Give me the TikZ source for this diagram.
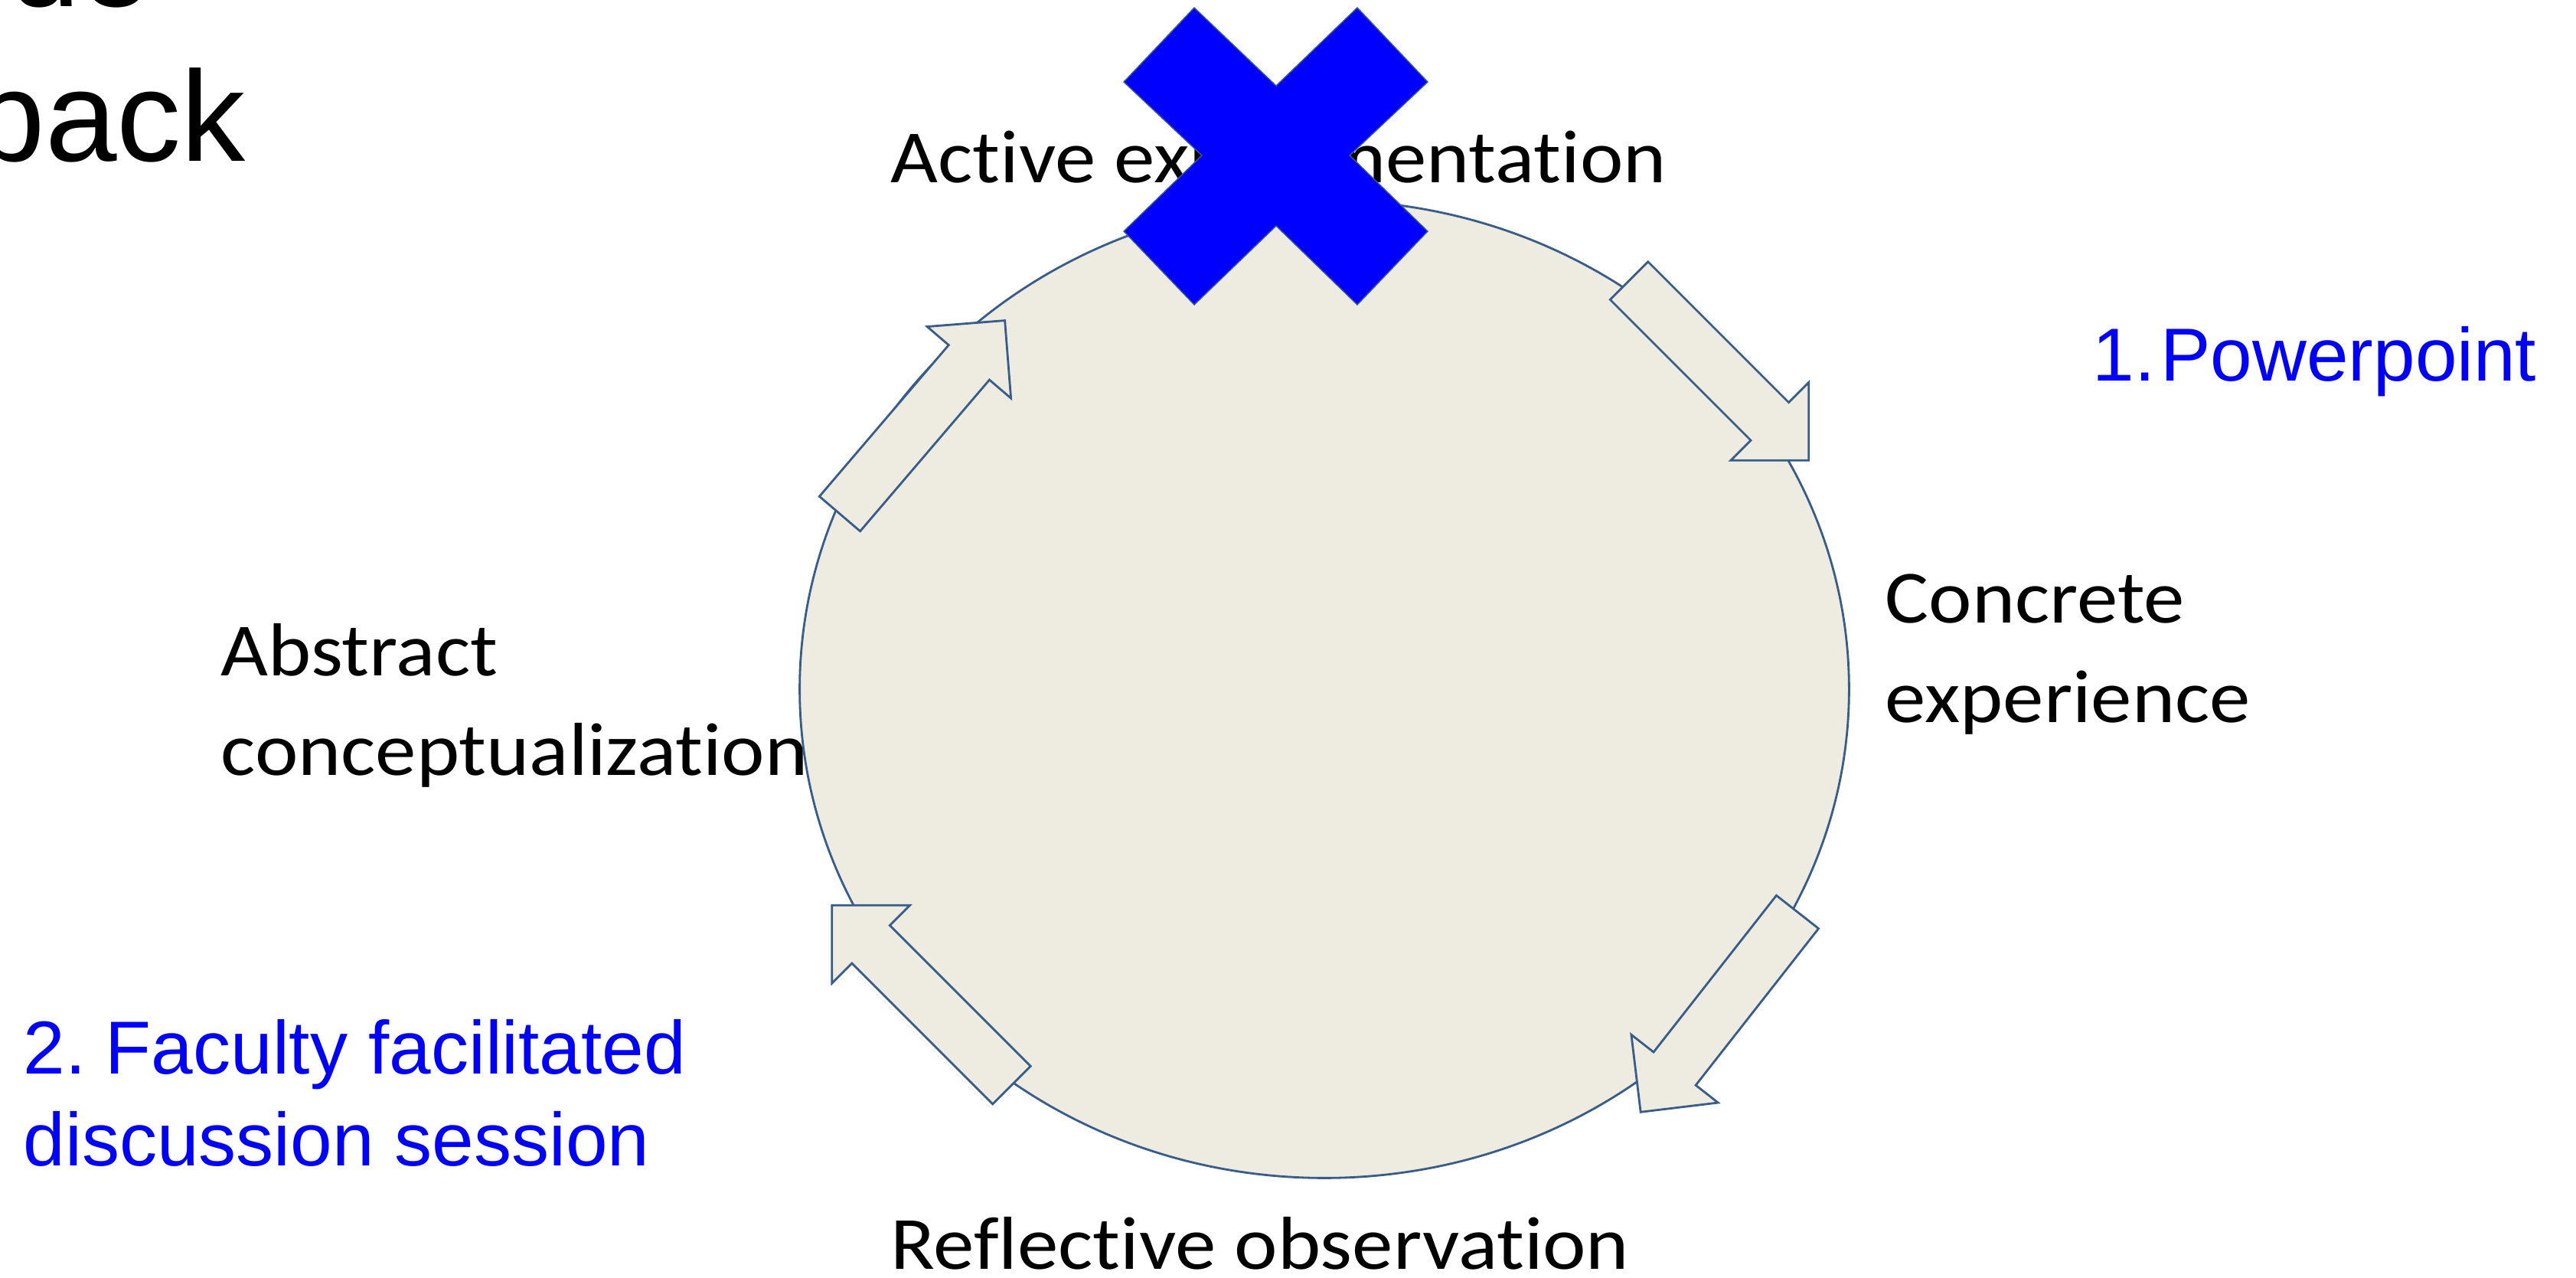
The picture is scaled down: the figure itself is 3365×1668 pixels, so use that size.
\documentclass[tikz,border=0pt]{standalone}
\usepackage{fontspec}
\usepackage{tikz}
\setmainfont{Carlito}[FakeStretch=1.09, Ligatures=NoCommon]
\newfontfamily\arialfont{Liberation Sans}
\definecolor{wheelfill}{HTML}{EEECE1}
\definecolor{wheeldraw}{HTML}{385D8A}

\tikzset{
  stage/.style={inner sep=0pt, align=left, font=\fontsize{27.9}{36.7}\selectfont},
  task/.style={inner sep=0pt, align=left, text=blue, font=\arialfont\fontsize{27.9}{34.1}\selectfont},
  title/.style={inner sep=0pt, font=\arialfont\fontsize{47.8}{57}\selectfont},
  blockarrow/.style={draw=wheeldraw, fill=wheelfill, line width=0.8pt, line join=miter}
}

% one block arrow of the cycle: tail midpoint, direction
\newcommand{\cyclearrow}[2]{%
  \draw[blockarrow, shift={#1}, rotate=#2]
    (0,-35) -- (260,-35) -- (260,-72) -- (332,0) -- (260,72) -- (260,35) -- (0,35) -- cycle;}

\begin{document}
\begin{tikzpicture}[x=0.01cm, y=-0.01cm]
\useasboundingbox (0,0) rectangle (3365,1668);

\node[title, anchor=base east] (head1) at (199,8) {ide};
\node[title, anchor=base west] (head2) at (-35,210) {back};

\draw[blockarrow] (1730,900) ellipse [x radius=6.85cm, y radius=6.38cm];
\coordinate (wheel) at (1730,900);

\cyclearrow{(2128,366.5)}{-45}
\cyclearrow{(2348,1191)}{-128.1}
\cyclearrow{(1321.5,1417)}{135}
\cyclearrow{(1097,671)}{49.5}

% multi-line nodes sit on the baseline of their last line
\node[stage, anchor=base west] (active) at (1163,238) {Active experimentation};
\node[stage, anchor=base west] (concrete) at (2462,943) {Concrete\\experience};
\node[stage, anchor=base west] (reflect) at (1163,1657) {Reflective observation};
\node[stage, anchor=base west] (abstract) at (288,1012) {Abstract\\conceptualization};

\node[task, anchor=base west] (ppt) at (2733,497) {1.\hspace{0.07em}Powerpoint};
\node[task, anchor=base west] (session) at (30,1522) {2.\hspace{0.26em}Faculty facilitated\\discussion session};

\draw[draw=wheeldraw, fill=blue, line width=0.4pt]
  (1560,10) -- (1667,112) -- (1773,10) -- (1865,107) -- (1763,203) -- (1865,302)
  -- (1773,398) -- (1667,295) -- (1560,398) -- (1468,302) -- (1570,203) -- (1468,107) -- cycle;
\end{tikzpicture}
\end{document}
